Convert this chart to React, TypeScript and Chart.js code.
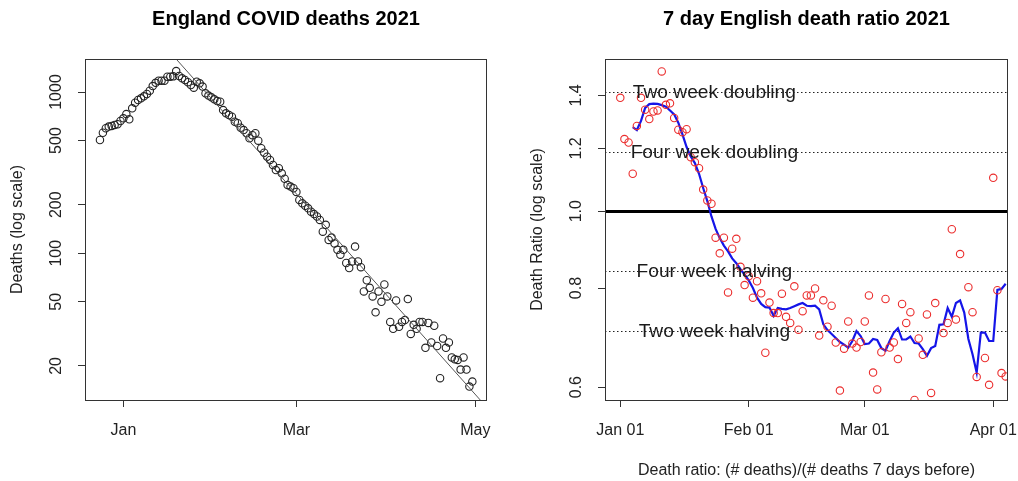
import React, { useEffect, useRef } from "react";
import { Chart, registerables } from "chart.js";
Chart.register(...registerables);

const FONT = '"Liberation Sans", Arial, Helvetica, sans-serif';

// ---------- Left panel: daily deaths (day 0 = 1 Jan 2021) ----------
const deathStartDay = -8; // 24 Dec 2020
const deaths = [
  504, 559, 596, 610, 616, 625, 631, 661, 687, 730, 677, 792, 858, 892, 914, 940,
  972, 1019, 1089, 1140, 1175, 1175, 1175, 1245, 1245, 1250, 1349, 1257, 1216, 1187,
  1150, 1105, 1063, 1158, 1132, 1080, 981, 950, 927, 901, 880, 871, 773, 738, 720,
  703, 655, 640, 600, 581, 555, 517, 540, 555, 499, 448, 420, 397, 379, 353, 328,
  337, 313, 290, 265, 259, 253, 240, 214, 204, 197, 190, 181, 175, 169, 161, 136,
  150, 121, 125, 115, 105, 98, 105, 87, 81, 89, 110, 89, 82, 58, 68, 61, 54, 43,
  58, 50, 64, 54, 37.5, 34, 51, 35, 37.5, 38.5, 52, 31.6, 36, 34, 37.5, 37.5, 25.9,
  37, 28, 35.5, 26.6, 16.8, 29.6, 25.9, 28, 22.6, 22, 21.8, 19, 22.6, 19, 14.9, 16,
];
const fitDays = [18, 121.7];
const fitDeaths = [1600, 12.3];
const leftXTickDays = [0, 59, 120];
const leftXTickLabels = ["Jan", "Mar", "May"];
const leftYTicks = [20, 50, 100, 200, 500, 1000];
const leftYTickLabels = ["20", "50", "100", "200", "500", "1000"];

// ---------- Right panel: 7 day death ratio ----------
const ratioStartDay = 0;
const ratios = [
  1.39, 1.233, 1.221, 1.115, 1.281, 1.39, 1.343, 1.307, 1.336, 1.34, 1.501, 1.362,
  1.368, 1.311, 1.267, 1.258, 1.269, 1.17, 1.153, 1.133, 1.065, 1.032, 1.022, 0.926,
  0.885, 0.926, 0.79, 0.897, 0.923, 0.851, 0.807, 0.828, 0.778, 0.816, 0.788, 0.663,
  0.767, 0.744, 0.744, 0.787, 0.736, 0.723, 0.804, 0.709, 0.748, 0.783, 0.783, 0.799,
  0.697, 0.772, 0.715, 0.76, 0.683, 0.594, 0.671, 0.726, 0.681, 0.673, 0.684, 0.726,
  0.783, 0.626, 0.596, 0.664, 0.775, 0.673, 0.683, 0.651, 0.764, 0.723, 0.746, 0.578,
  0.691, 0.659, 0.741, 0.59, 0.766, 0.56, 0.702, 0.723, 0.949, 0.73, 0.883, 0.565,
  0.802, 0.746, 0.618, 0.555, 0.653, 0.604, 1.102, 0.795, 0.625, 0.619,
];
const smoothStartDay = 3;
const smoothRatios = [
  1.277, 1.266, 1.3, 1.35, 1.365, 1.367, 1.366, 1.361, 1.355, 1.34, 1.325, 1.293,
  1.25, 1.205, 1.172, 1.15, 1.115, 1.07, 1.03, 0.985, 0.95, 0.925, 0.905, 0.89,
  0.872, 0.86, 0.845, 0.832, 0.818, 0.8, 0.778, 0.764, 0.757, 0.756, 0.738, 0.755,
  0.753, 0.752, 0.755, 0.759, 0.763, 0.766, 0.76, 0.759, 0.76, 0.752, 0.72, 0.708,
  0.7, 0.692, 0.684, 0.679, 0.673, 0.686, 0.706, 0.696, 0.68, 0.681, 0.69, 0.688,
  0.672, 0.667, 0.686, 0.703, 0.712, 0.689, 0.689, 0.695, 0.682, 0.681, 0.67, 0.657,
  0.672, 0.676, 0.719, 0.72, 0.755, 0.736, 0.766, 0.772, 0.745, 0.69, 0.66, 0.626,
  0.703, 0.703, 0.686, 0.686, 0.796, 0.798, 0.81,
];
const refLevels = [1.414, 1.189, 0.841, 0.707];
const refLabels = ["Two week doubling", "Four week doubling", "Four week halving", "Two week halving"];
const unityLevel = 1.0;
const refLabelDay = 22.7;
const rightXTickDays = [0, 31, 59, 90];
const rightXTickLabels = ["Jan 01", "Feb 01", "Mar 01", "Apr 01"];
const rightYTicks = [0.6, 0.8, 1.0, 1.2, 1.4];
const rightYTickLabels = ["0.6", "0.8", "1.0", "1.2", "1.4"];

type PanelCfg = {
  title: string;
  yTitle: string;
  xTitle?: string;
  xTicks: number[];
  xLabels: string[];
  yTicks: number[];
  yLabels: string[];
  refs?: boolean;
};

function makeFrame(cfg: PanelCfg) {
  return {
    id: "rframe",
    beforeDatasetsDraw(chart: any) {
      if (!cfg.refs) return;
      const { ctx, chartArea: a, scales } = chart;
      ctx.save();
      ctx.beginPath();
      ctx.rect(a.left, a.top, a.right - a.left, a.bottom - a.top);
      ctx.clip();
      ctx.strokeStyle = "#222";
      ctx.lineWidth = 1;
      ctx.setLineDash([1.5, 2.5]);
      for (const v of refLevels) {
        const y = Math.round(scales.y.getPixelForValue(v)) + 0.5;
        ctx.beginPath();
        ctx.moveTo(a.left, y);
        ctx.lineTo(a.right, y);
        ctx.stroke();
      }
      ctx.setLineDash([]);
      ctx.lineWidth = 3;
      ctx.strokeStyle = "#000";
      const y1 = Math.round(scales.y.getPixelForValue(unityLevel)) + 0.5;
      ctx.beginPath();
      ctx.moveTo(a.left, y1);
      ctx.lineTo(a.right, y1);
      ctx.stroke();
      ctx.restore();
    },
    afterDatasetsDraw(chart: any) {
      if (!cfg.refs) return;
      const { ctx, scales } = chart;
      ctx.save();
      ctx.fillStyle = "#1a1a1a";
      ctx.font = `19.2px ${FONT}`;
      ctx.textAlign = "center";
      ctx.textBaseline = "middle";
      const x = scales.x.getPixelForValue(refLabelDay);
      refLevels.forEach((v, i) => {
        ctx.fillText(refLabels[i], x, scales.y.getPixelForValue(v) + 1);
      });
      ctx.restore();
    },
    afterDraw(chart: any) {
      const { ctx, chartArea: a, scales } = chart;
      ctx.save();
      ctx.strokeStyle = "#333";
      ctx.lineWidth = 1;
      ctx.strokeRect(a.left + 0.5, a.top + 0.5, a.right - a.left - 1, a.bottom - a.top);
      ctx.fillStyle = "#222";
      ctx.font = `16px ${FONT}`;
      ctx.textAlign = "center";
      ctx.textBaseline = "middle";
      cfg.xTicks.forEach((d, i) => {
        ctx.fillText(cfg.xLabels[i], scales.x.getPixelForValue(d), a.bottom + 31);
      });
      cfg.yTicks.forEach((v, i) => {
        ctx.save();
        ctx.translate(a.left - 28, scales.y.getPixelForValue(v));
        ctx.rotate(-Math.PI / 2);
        ctx.fillText(cfg.yLabels[i], 0, 0);
        ctx.restore();
      });
      const cy = (a.top + a.bottom) / 2;
      const cx = (a.left + a.right) / 2;
      ctx.save();
      ctx.translate(a.left - 67, cy);
      ctx.rotate(-Math.PI / 2);
      ctx.fillText(cfg.yTitle, 0, 0);
      ctx.restore();
      if (cfg.xTitle) ctx.fillText(cfg.xTitle, cx, a.bottom + 71);
      ctx.fillStyle = "#000";
      ctx.font = `bold 20px ${FONT}`;
      ctx.fillText(cfg.title, cx, 19);
      ctx.restore();
    },
  };
}

function axisOpts(type: string, min: number, max: number, ticks: number[], size: number, horiz: boolean) {
  return {
    type,
    min,
    max,
    bounds: "data",
    afterFit: (s: any) => {
      if (horiz) s.height = size;
      else s.width = size;
    },
    afterBuildTicks: (s: any) => {
      s.ticks = ticks.map((v) => ({ value: v }));
    },
    ticks: { display: false },
    grid: { display: true, drawOnChartArea: false, drawTicks: true, tickLength: 7, color: "#333", lineWidth: 1 },
    border: { display: false },
  };
}

function LeftChart() {
  const ref = useRef<HTMLCanvasElement | null>(null);
  useEffect(() => {
    if (!ref.current) return;
    const pts = deaths.map((v, i) => ({ x: deathStartDay + i, y: v }));
    const fit = fitDays.map((d, i) => ({ x: d, y: fitDeaths[i] }));
    const chart = new Chart(ref.current, {
      type: "scatter",
      data: {
        datasets: [
          {
            data: fit,
            showLine: true,
            borderColor: "#555",
            borderWidth: 1,
            pointRadius: 0,
            clip: 0,
          } as any,
          {
            data: pts,
            pointStyle: "circle",
            pointRadius: 3.7,
            borderWidth: 1.1,
            borderColor: "#222",
            backgroundColor: "rgba(0,0,0,0)",
            clip: 0,
          } as any,
        ],
      },
      options: {
        responsive: false,
        animation: false,
        layout: { padding: { top: 59, right: 22, left: 0, bottom: 0 } },
        plugins: { legend: { display: false }, tooltip: { enabled: false } },
        scales: {
          x: axisOpts("linear", -13.1, 124.0, leftXTickDays, 81, true) as any,
          y: axisOpts("logarithmic", 12.3, 1602, leftYTicks, 85, false) as any,
        },
      },
      plugins: [
        makeFrame({
          title: "England COVID deaths 2021",
          yTitle: "Deaths (log scale)",
          xTicks: leftXTickDays,
          xLabels: leftXTickLabels,
          yTicks: leftYTicks,
          yLabels: leftYTickLabels,
        }),
      ],
    });
    return () => chart.destroy();
  }, []);
  return <canvas ref={ref} width={509} height={481} style={{ position: "absolute", left: 0, top: 0 }} />;
}

function RightChart() {
  const ref = useRef<HTMLCanvasElement | null>(null);
  useEffect(() => {
    if (!ref.current) return;
    const pts = ratios.map((v, i) => ({ x: ratioStartDay + i, y: v }));
    const smooth = smoothRatios.map((v, i) => ({ x: smoothStartDay + i, y: v }));
    const chart = new Chart(ref.current, {
      type: "scatter",
      data: {
        datasets: [
          {
            data: pts,
            pointStyle: "circle",
            pointRadius: 3.7,
            borderWidth: 1.1,
            borderColor: "rgb(235,45,45)",
            backgroundColor: "rgba(0,0,0,0)",
            clip: 0,
          } as any,
          {
            data: smooth,
            showLine: true,
            borderColor: "#1515e8",
            borderWidth: 2.2,
            pointRadius: 0,
            tension: 0,
            clip: 0,
          } as any,
        ],
      },
      options: {
        responsive: false,
        animation: false,
        layout: { padding: { top: 59, right: 10, left: 0, bottom: 0 } },
        plugins: { legend: { display: false }, tooltip: { enabled: false } },
        scales: {
          x: axisOpts("linear", -3.69, 93.56, rightXTickDays, 81, true) as any,
          y: axisOpts("logarithmic", 0.578, 1.556, rightYTicks, 96, false) as any,
        },
      },
      plugins: [
        makeFrame({
          title: "7 day English death ratio 2021",
          yTitle: "Death Ratio (log scale)",
          xTitle: "Death ratio: (# deaths)/(# deaths 7 days before)",
          xTicks: rightXTickDays,
          xLabels: rightXTickLabels,
          yTicks: rightYTicks,
          yLabels: rightYTickLabels,
          refs: true,
        }),
      ],
    });
    return () => chart.destroy();
  }, []);
  return <canvas ref={ref} width={509} height={481} style={{ position: "absolute", left: 509, top: 0 }} />;
}

export default function App() {
  return (
    <div style={{ position: "absolute", left: 0, top: 0, width: 1018, height: 481, background: "#fff" }}>
      <LeftChart />
      <RightChart />
    </div>
  );
}
